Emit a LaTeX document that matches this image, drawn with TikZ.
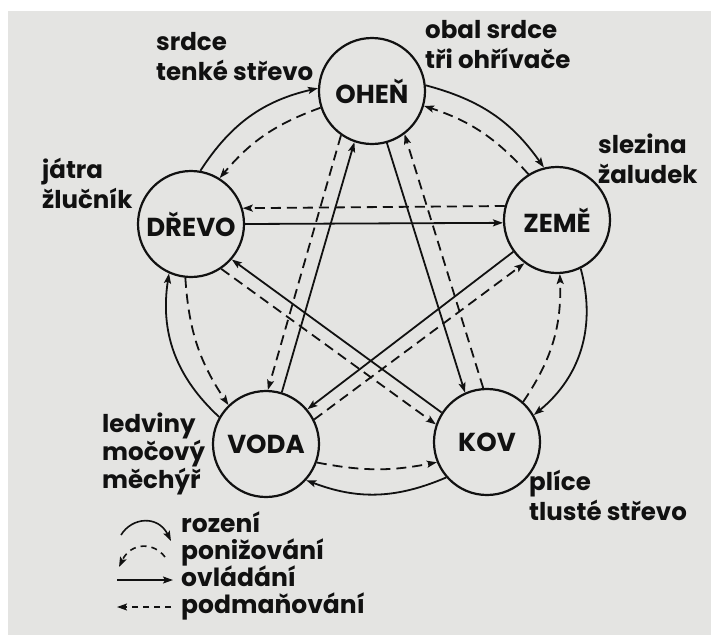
\documentclass[tikz,border=0pt]{standalone}
\usepackage{fontspec}
\setmainfont{Poppins}
\usetikzlibrary{arrows.meta}
\definecolor{ink}{HTML}{111111}
\definecolor{paper}{HTML}{E4E4E2}
\begin{document}
\begin{tikzpicture}[x=1pt,y=-1pt,
  elem/.style={circle, draw=ink, line width=2.2pt, minimum size=106pt, inner sep=0pt,
    font=\fontsize{26}{30}\selectfont\bfseries, text=ink},
  lbl/.style={anchor=base west, align=left, inner sep=0pt, text=ink,
    font=\fontsize{24.5}{30}\selectfont\bfseries},
  leg/.style={anchor=base west, inner sep=0pt, text=ink,
    font=\fontsize{25}{27}\selectfont\bfseries},
  tip/.style={-{Stealth[length=10pt,width=7pt,inset=2pt]}},
  gen/.style={draw=ink, line width=1.8pt, tip},
  dgen/.style={gen, dash pattern=on 10pt off 6pt}]
\useasboundingbox (0,0) rectangle (711,635);
\fill[white] (0,0) rectangle (711,635);
\fill[paper] (8,11) rectangle (711,635);

% elements
\node[elem] (ohen)  at (372,91)  {OHEŇ};
\node[elem] (drevo) at (191,224) {DŘEVO};
\node[elem] (zeme)  at (557,220) {ZEMĚ};
\node[elem] (voda)  at (266,444) {VODA};
\node[elem] (kov)   at (487,442) {KOV};

% organ labels (anchor = baseline of the last line)
\node[lbl] (l1) at (156,80)  {srdce\\tenké střevo};
\node[lbl] (l2) at (425,68)  {obal srdce\\tři ohřívače};
\node[lbl] (l3) at (42,208)  {játra\\žlučník};
\node[lbl] (l4) at (598,183) {slezina\\žaludek};
\node[lbl, font=\fontsize{24.5}{28}\selectfont\bfseries] (l5) at (102,488) {ledviny\\močový\\měchýř};
\node[lbl] (l6) at (529,520) {plíce\\tlusté střevo};

% rozeni (outer, solid curved)
\draw[gen] (drevo.80)  to[bend left=22] (ohen.177);
\draw[gen] (ohen.6)    to[bend left=20] (zeme.104);
\draw[gen] (zeme.-64)  to[bend left=33] (kov.30);
\draw[gen] (kov.221)   to[bend left=22] (voda.318);
\draw[gen] (voda.150)  to[bend left=28] (drevo.246);

% ponizovani (inner, dashed curved)
\draw[dgen] (ohen.198)  to[bend right=15] (drevo.58);
\draw[dgen] (zeme.122)  to[bend right=15] (ohen.-16);
\draw[dgen] (kov.48)    to[bend right=18] (zeme.-87);
\draw[dgen] (voda.-20)  to[bend right=11] (kov.202);
\draw[dgen] (drevo.264) to[bend right=15] (voda.134);

% ovladani (solid straight)
\draw[gen] (drevo.0)  -- (zeme.183);
\draw[gen] (zeme.216) -- (voda.40);
\draw[gen] (voda.73)  -- (ohen.251);
\draw[gen] (ohen.286) -- (kov.114);
\draw[gen] (kov.147)  -- (drevo.319);

% podmanovani (dashed straight)
\draw[dgen] (zeme.165)  -- (drevo.17);
\draw[dgen] (voda.27)   -- (zeme.233);
\draw[dgen] (ohen.235)  -- (voda.88);
\draw[dgen] (kov.94)    -- (ohen.307);
\draw[dgen] (drevo.304) -- (kov.161);

% legend
\node[leg] (t1) at (181,532) {rození};
\node[leg] (t2) at (181,559) {ponižování};
\node[leg] (t3) at (181,586) {ovládání};
\node[leg] (t4) at (181,613) {podmaňování};
\coordinate (a1s) at (121,535);
\coordinate (a1e) at (171,541);
\coordinate (a2s) at (165,557);
\coordinate (a2e) at (119,567);
\coordinate (a3s) at (117,580);
\coordinate (a3e) at (173,580);
\coordinate (a4s) at (171,607);
\coordinate (a4e) at (117,607);
\draw[gen, line width=1.6pt] (a1s) .. controls (132,517) and (158,515) .. (a1e);
\draw[gen, line width=1.6pt, dash pattern=on 6pt off 5pt] (a2s) .. controls (154,542) and (131,542) .. (a2e);
\draw[gen, line width=1.6pt] (a3s) -- (a3e);
\draw[gen, line width=1.6pt, dash pattern=on 6pt off 5pt] (a4s) -- (a4e);
\end{tikzpicture}
\end{document}
